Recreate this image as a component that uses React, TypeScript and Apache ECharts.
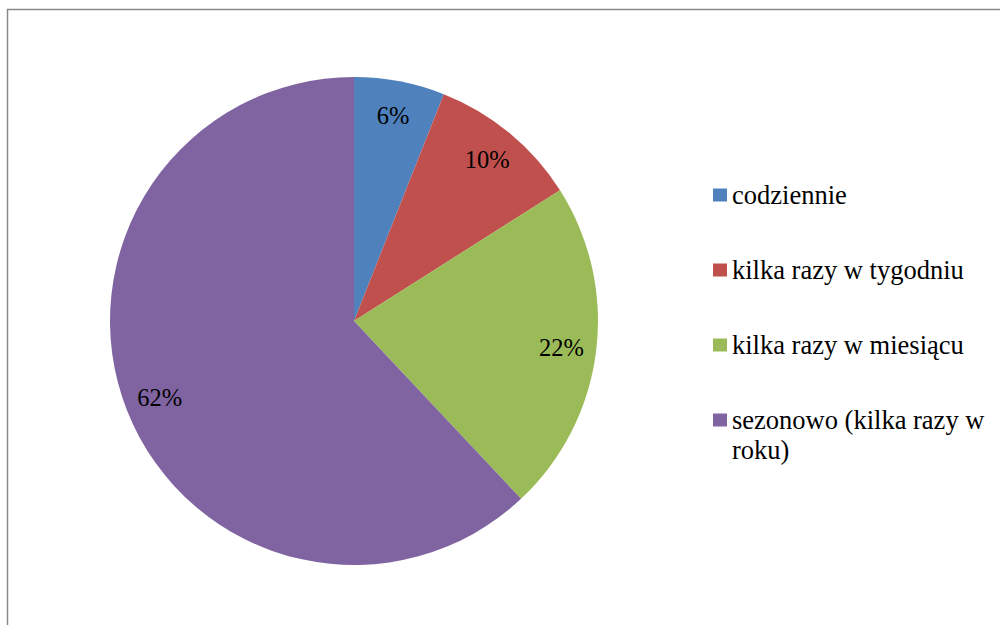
import React, { useEffect, useRef } from "react";
import * as echarts from "echarts";

const categories = [
  "codziennie",
  "kilka razy w tygodniu",
  "kilka razy w miesiącu",
  "sezonowo (kilka razy w roku)",
];
const values = [6, 10, 22, 62];
const colors = ["#4F81BD", "#C0504D", "#9BBB59", "#8064A2"];

const FONT = "Liberation Serif, Times New Roman, serif";

export default function App() {
  const ref = useRef<HTMLDivElement>(null);
  useEffect(() => {
    if (!ref.current) return;
    const chart = echarts.init(ref.current, undefined, { renderer: "svg" });
    const data = categories.map((name, i) => ({
      name,
      value: values[i],
      itemStyle: { color: colors[i] },
    }));
    chart.setOption({
      animation: false,
      textStyle: { fontFamily: FONT },
      legend: [
        {
          orient: "vertical",
          left: 713,
          top: 180,
          padding: 0,
          itemWidth: 14,
          itemHeight: 13,
          itemGap: 45,
          icon: "rect",
          selectedMode: false,
          data: categories.slice(0, 3),
          textStyle: { fontFamily: FONT, fontSize: 26.5, color: "#000", lineHeight: 30 },
        },
        {
          orient: "vertical",
          left: 713,
          top: 375,
          padding: 0,
          itemWidth: 14,
          itemHeight: 13,
          icon: "rect",
          selectedMode: false,
          data: categories.slice(3),
          formatter: (name: string) => "\n" + name.replace(" roku)", "\nroku)"),
          textStyle: { fontFamily: FONT, fontSize: 26.5, color: "#000", lineHeight: 30 },
        },
      ],
      graphic: [
        {
          type: "line",
          shape: { x1: 7, y1: 9.5, x2: 1000, y2: 9.5 },
          style: { stroke: "#8a8a8a", lineWidth: 1.5 },
        },
        {
          type: "line",
          shape: { x1: 7.5, y1: 9, x2: 7.5, y2: 625 },
          style: { stroke: "#8a8a8a", lineWidth: 1.5 },
        },
      ],
      series: [
        {
          type: "pie",
          center: [354, 321],
          radius: [0, 244],
          startAngle: 90,
          clockwise: true,
          silent: true,
          label: { show: false },
          labelLine: { show: false },
          itemStyle: { borderWidth: 0 },
          data,
        },
        {
          type: "pie",
          center: [354, 321],
          radius: [158, 254],
          startAngle: 90,
          clockwise: true,
          silent: true,
          legendHoverLink: false,
          itemStyle: { color: "transparent", borderWidth: 0 },
          label: {
            show: true,
            position: "inside",
            formatter: "{d}%",
            fontFamily: FONT,
            fontSize: 24.5,
            color: "#000",
          },
          labelLine: { show: false },
          data: categories.map((name, i) => ({ name, value: values[i] })),
        },
      ],
    });
    return () => chart.dispose();
  }, []);
  return (
    <div
      ref={ref}
      style={{ position: "absolute", left: 0, top: 0, width: 1000, height: 625, background: "#fff" }}
    />
  );
}
